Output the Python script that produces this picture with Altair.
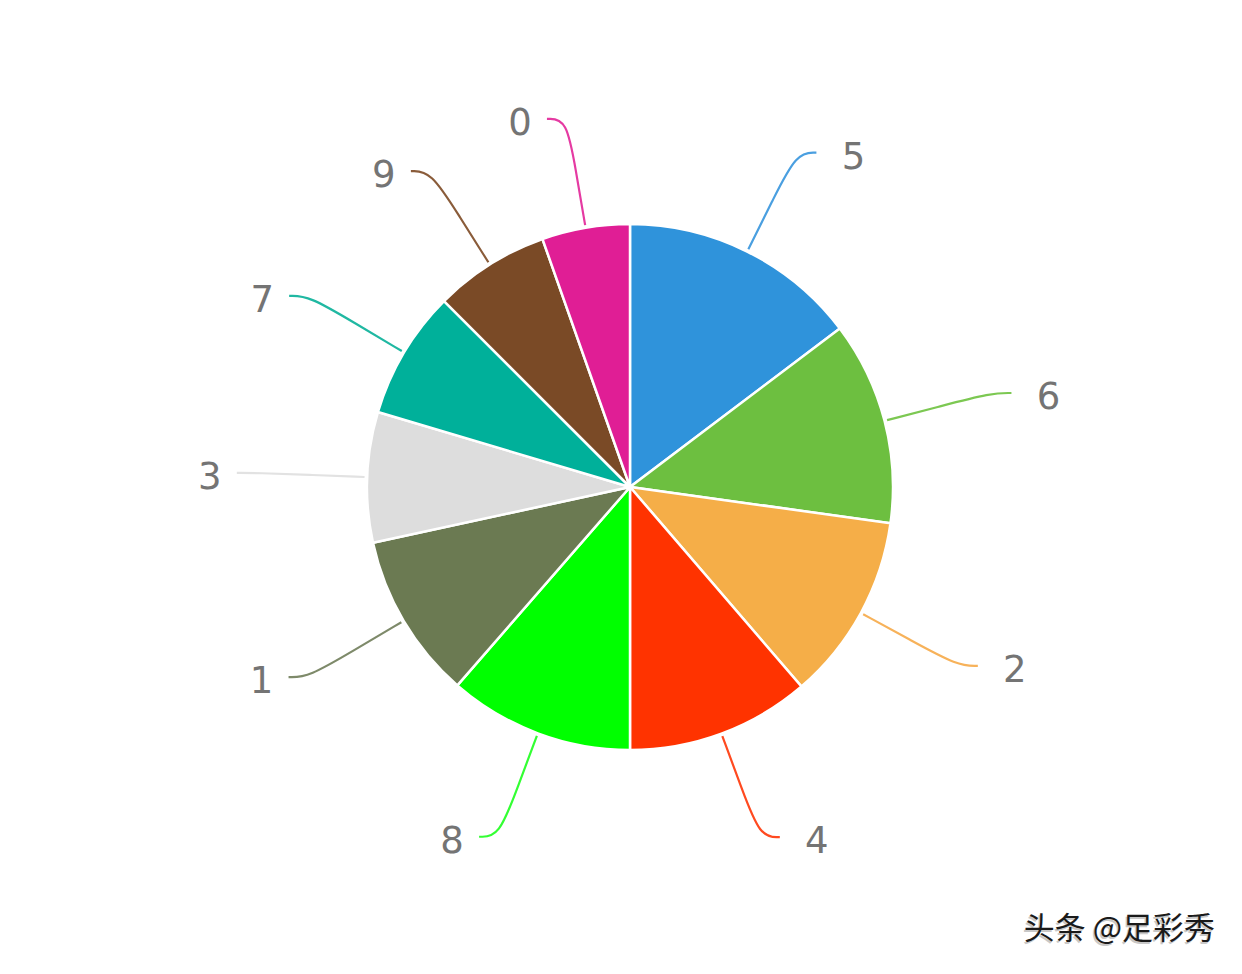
import math
import altair as alt
import pandas as pd

# Data (share of the pie, clockwise from 12 o'clock)
digits = ["5", "6", "2", "4", "8", "1", "3", "7", "9", "0"]
shares = [14.7, 12.5, 11.5, 11.3, 11.4, 10.2, 8.0, 7.9, 7.1, 5.4]
colors = ["#2f93db", "#6dbf40", "#f5ae48", "#ff3300", "#00ff00",
          "#6b7a52", "#dddddd", "#00b09a", "#7a4a26", "#e01e95"]
line_colors = ["#4a9fe0", "#7cc852", "#f7b25a", "#ff4a20", "#33ff33",
               "#7e8a6a", "#e2e2e2", "#20b8a2", "#8a5c3a", "#e53aa2"]
watermark = "头条 @足彩秀"

R = 263
total = sum(shares)
rows, lines = [], []
cum = 0.0
for i, (d, v) in enumerate(zip(digits, shares)):
    mid = (cum + v / 2) / total * 2 * math.pi
    cum += v
    s, c = math.sin(mid), math.cos(mid)
    side = 1 if s >= 0 else -1
    r_out = 1.42 * R
    pts = [(1.01 * R * s, 1.01 * R * c), (1.22 * R * s, 1.22 * R * c),
           (r_out * s, r_out * c)]
    ex, ey = pts[-1]
    pts += [(ex + 20 * side, ey)]
    for k, (x, y) in enumerate(pts):
        lines.append(dict(digit=d, k=k, x=x, y=y))
    gap = 37 if side > 0 else 27
    rows.append(dict(digit=d, share=v, order=i,
                     lx=ex + 20 * side + gap * side, ly=ey))

df = pd.DataFrame(rows)
ldf = pd.DataFrame(lines)

xs = alt.Scale(domain=[-622, 604], nice=False, zero=False)
ys = alt.Scale(domain=[-479, 479], nice=False, zero=False)

connectors = alt.Chart(ldf).mark_line(interpolate="basis", strokeWidth=2.2).encode(
    x=alt.X("x:Q", scale=xs, axis=None),
    y=alt.Y("y:Q", scale=ys, axis=None),
    detail="digit:N",
    order="k:Q",
    color=alt.Color("digit:N", scale=alt.Scale(domain=digits, range=line_colors), legend=None),
)

pie = alt.Chart(df).mark_arc(radius=R, stroke="white", strokeWidth=2.5).encode(
    theta=alt.Theta("share:Q", stack=True),
    order=alt.Order("order:Q"),
    fill=alt.Fill("digit:N", scale=alt.Scale(domain=digits, range=colors), legend=None),
    x=alt.XDatum(0, type="quantitative", scale=xs, axis=None),
    y=alt.YDatum(0, type="quantitative", scale=ys, axis=None),
)

labels = alt.Chart(df).mark_text(fontSize=37, font="DejaVu Sans", color="#747474",
                                 baseline="middle", align="center", dy=5).encode(
    x=alt.X("lx:Q", scale=xs, axis=None),
    y=alt.Y("ly:Q", scale=ys, axis=None),
    text="digit:N",
)

wm_df = pd.DataFrame({"t": [watermark]})
wm_shadow = alt.Chart(wm_df).mark_text(fontSize=31, font="Noto Sans CJK SC", fontWeight="normal",
                                       color="#c8c8c8", align="right", baseline="middle",
                                       dx=-1.5, dy=1.5).encode(
    text="t:N", x=alt.value(1207), y=alt.value(922))
wm = alt.Chart(wm_df).mark_text(fontSize=31, font="Noto Sans CJK SC", fontWeight="normal",
                                color="#1a1a1a", align="right", baseline="middle").encode(
    text="t:N", x=alt.value(1207), y=alt.value(922))

chart = alt.layer(connectors, pie, labels, wm_shadow, wm).properties(
    width=1226, height=958, padding=0, autosize="none"
).configure_view(stroke=None)

chart.save("out.html", embed_options={"renderer": "svg", "actions": False})
